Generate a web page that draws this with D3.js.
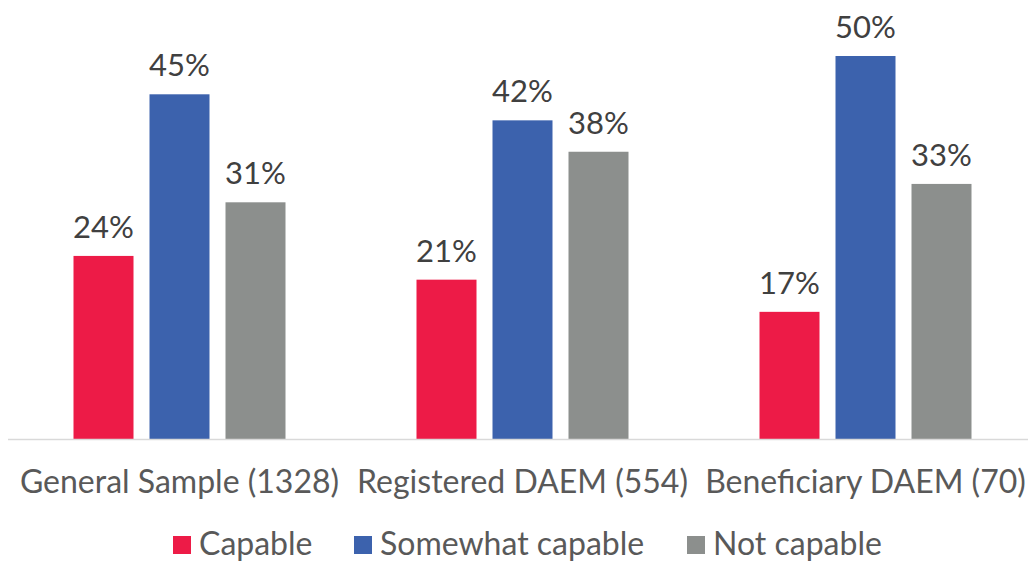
<!DOCTYPE html>
<html><head><meta charset="utf-8">
<script src="https://cdn.jsdelivr.net/npm/d3@7"></script>
<style>body{margin:0;background:#fff;font-family:Lato,sans-serif}</style>
</head><body>
<svg id="c" width="1028" height="561"></svg>
<script>
const categories = ["General Sample (1328)", "Registered DAEM (554)", "Beneficiary DAEM (70)"];
const seriesNames = ["Capable", "Somewhat capable", "Not capable"];
const capable = [23.9, 20.8, 16.6];
const somewhat = [45.0, 41.6, 50.0];
const notCapable = [30.9, 37.5, 33.3];
const colors = ["#ED1B47", "#3C62AD", "#8C8F8D"];

const values = [capable, somewhat, notCapable];
const svg = d3.select("#c");
const baseY = 439;
const x0 = d3.scaleBand().domain(categories).range([8, 1037]);
const x1 = d3.scaleBand().domain(seriesNames).range([-114, 114]).paddingInner(16/76).paddingOuter(8/76);
const y = d3.scaleLinear().domain([0, 50]).range([baseY, 56]);

const data = [];
categories.forEach((c, i) => seriesNames.forEach((s, j) => data.push({c, s, v: values[j][i], j})));

const g = svg.append("g");
g.selectAll("rect").data(data).join("rect")
  .attr("x", d => x0(d.c) + x0.bandwidth()/2 + x1(d.s))
  .attr("width", x1.bandwidth())
  .attr("y", d => y(d.v))
  .attr("height", d => baseY - y(d.v))
  .attr("fill", d => colors[d.j]);

g.selectAll("text.lab").data(data).join("text").attr("class","lab")
  .attr("x", d => x0(d.c) + x0.bandwidth()/2 + x1(d.s) + x1.bandwidth()/2)
  .attr("y", d => y(d.v) - 18)
  .attr("text-anchor", "middle")
  .attr("font-size", 31).attr("fill", "#404040")
  .text(d => Math.round(d.v) + "%");

svg.append("line").attr("x1", 8).attr("x2", 1028).attr("y1", baseY + 0.5).attr("y2", baseY + 0.5)
  .attr("stroke", "#d9d9d9").attr("stroke-width", 1.5);

svg.selectAll("text.cat").data(categories).join("text").attr("class","cat")
  .attr("x", d => x0(d) + x0.bandwidth()/2)
  .attr("y", 493)
  .attr("text-anchor", "middle")
  .attr("font-size", 32).attr("fill", "#595959")
  .text(d => d);

const legX = [173, 354, 687];
const leg = svg.selectAll("g.leg").data(seriesNames).join("g").attr("class","leg")
  .attr("transform", (d, i) => `translate(${legX[i]},0)`);
leg.append("rect").attr("x", 0).attr("y", 536).attr("width", 18).attr("height", 18).attr("fill", (d, i) => colors[i]);
leg.append("text").attr("x", 26).attr("y", 555).attr("font-size", 32).attr("fill", "#595959").text(d => d);
</script>
</body></html>
